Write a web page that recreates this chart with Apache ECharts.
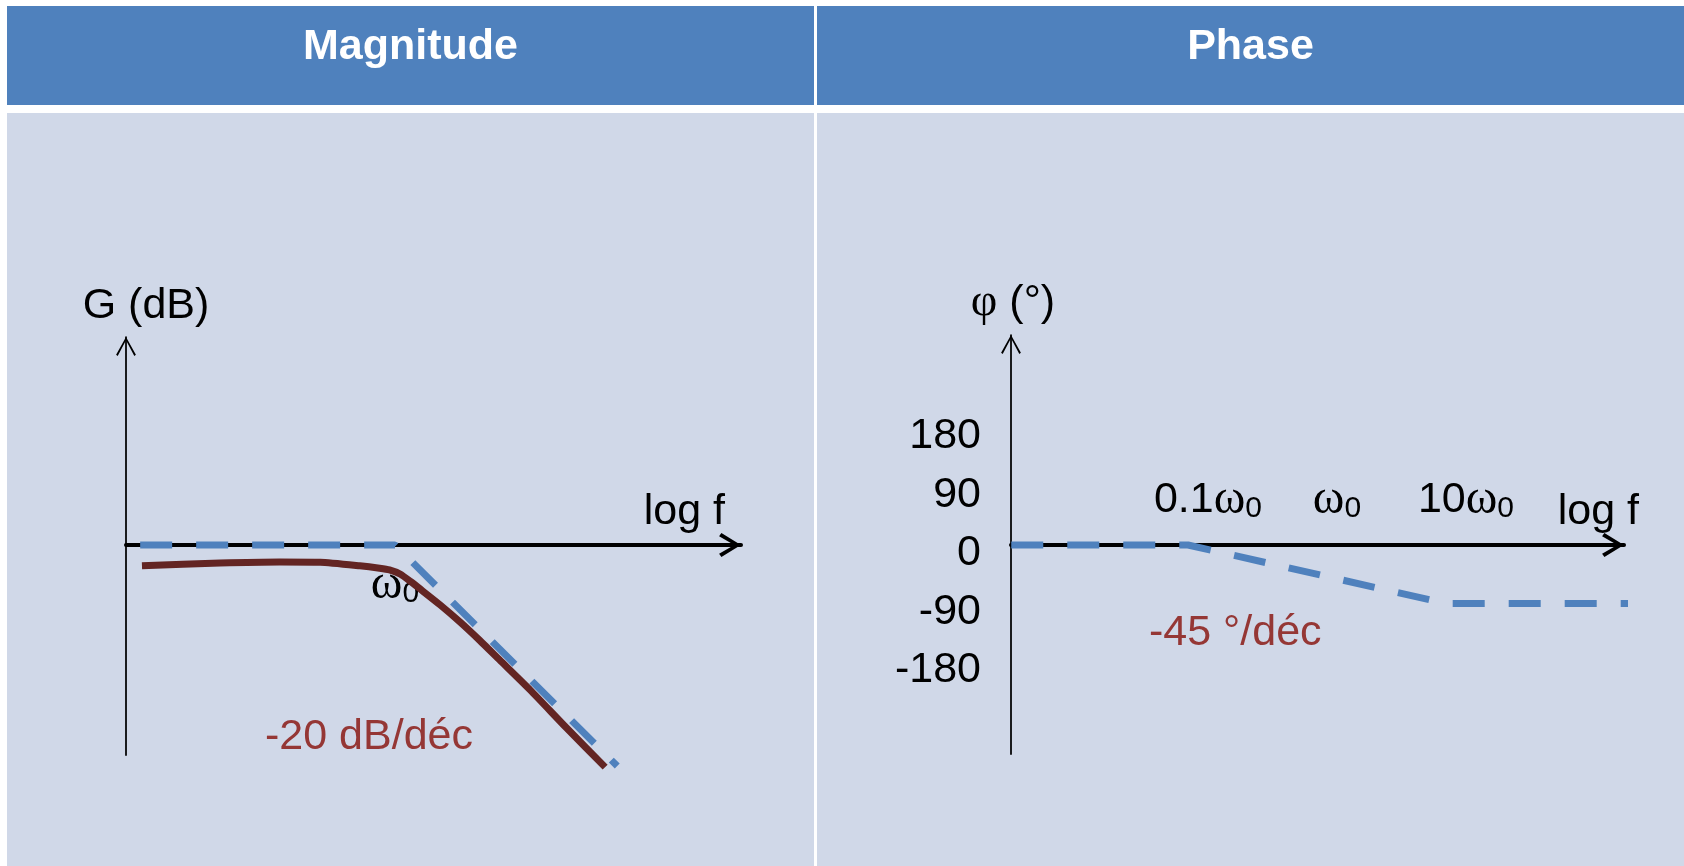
<!DOCTYPE html>
<html>
<head>
<meta charset="utf-8">
<script src="https://cdn.jsdelivr.net/npm/echarts@6/dist/echarts.min.js"></script>
<style>
html,body{margin:0;padding:0;background:#ffffff;}
#chart{width:1684px;height:866px;}
</style>
</head>
<body>
<div id="chart"></div>
<script>
// ---- Data (x = decades relative to ω0) ----
// Magnitude panel (y = dB)
const magAsymptote = [[-2.58, 0], [0, 0], [2.02, -40.2]];
const magActual = [[-2.30, -3.8], [-1.59, -3.3], [-1.05, -3.1], [-0.68, -3.15], [-0.32, -3.8],
                   [-0.14, -4.24], [-0.05, -4.55], [0.05, -5.33], [0.14, -6.64], [0.23, -8.04],
                   [0.41, -10.9], [0.59, -14.0], [0.77, -17.36], [0.95, -20.9], [1.23, -26.4],
                   [1.56, -33.3], [1.91, -40.4]];
const magFreqTicks = [0];
const magFreqLabels = ['{w|ω}{s|0}'];
// Phase panel (y = degrees)
const phaseAsymptote = [[-2.37, 0], [-1, 0], [1, -90], [2.52, -90]];
const phaseTicks = [180, 90, 0, -90, -180];
const phaseFreqTicks = [-1, 0, 1];
const phaseFreqLabels = ['{n|0.1}{w|ω}{s|0}', '{w|ω}{s|0}', '{n|10}{w|ω}{s|0}'];
// Texts
const panelTitles = ['Magnitude', 'Phase'];
const magSlopeText = '-20 dB/déc';
const phaseSlopeText = '-45 °/déc';

const SANS = "'Liberation Sans', Arial, sans-serif";
const SERIF = "'Liberation Serif', 'Times New Roman', serif";
const HEADER_BLUE = '#4F81BD';
const BODY_BG = '#D0D8E8';
const DASH_BLUE = '#4F81BD';
const BROWN = '#632523';
const RED_TEXT = '#953735';

const richOmega = {
  n: {fontSize: 43, fontFamily: SANS, color: '#000', verticalAlign: 'middle'},
  w: {fontSize: 48, fontFamily: SERIF, color: '#000', verticalAlign: 'middle'},
  s: {fontSize: 30, fontFamily: SANS, color: '#000', verticalAlign: 'bottom', lineHeight: 10}
};

const thinArrow = 'path://M10,0 L20,18 L18.4,19.2 L10,3.4 L1.6,19.2 L0,18 Z';
const thickArrow = 'path://M12,0 L24,19.5 L20.8,21.8 L12,6.6 L3.2,21.8 L0,19.5 Z';

const chart = echarts.init(document.getElementById('chart'), null, {renderer: 'canvas'});

// Panel geometry
const MAG = {left: 126, top: 337, width: 615, zeroH: 208, fullH: 418, xMin: -2.445, xMax: 3.145, yMin: -38.2, yMax: 37.8};
const PHA = {left: 1011, top: 335, width: 613, zeroH: 210, fullH: 419, xMin: -2.372, xMax: 2.380, yMin: -321.5, yMax: 323};

function freqAxis(gridIndex, P, ticks, labels, labelOpt, nameGap, namePad) {
  return {
    type: 'value', gridIndex: gridIndex, min: P.xMin, max: P.xMax, position: 'bottom',
    splitLine: {show: false},
    axisTick: {show: false},
    axisLine: {
      onZero: false,
      symbol: ['none', thickArrow],
      symbolSize: [24, 22],
      symbolOffset: [0, -11],
      lineStyle: {color: '#000', width: 4}
    },
    axisLabel: Object.assign({
      customValues: ticks,
      formatter: function (v) { return labels[ticks.indexOf(v)] || ''; },
      rich: richOmega,
      showMinLabel: true, showMaxLabel: true, hideOverlap: false
    }, labelOpt),
    name: 'log f',
    nameLocation: 'end',
    nameGap: nameGap,
    nameTextStyle: {fontSize: 43, fontFamily: SANS, color: '#000', align: 'right', verticalAlign: 'bottom', padding: namePad}
  };
}

function hiddenAxis(type, gridIndex, min, max) {
  return {type: type, gridIndex: gridIndex, min: min, max: max, show: false,
          splitLine: {show: false}, axisLine: {show: false}, axisTick: {show: false}, axisLabel: {show: false}};
}

function valueAxisY(gridIndex, P, name, nameStyle, labelOpt) {
  return {
    type: 'value', gridIndex: gridIndex, min: P.yMin, max: P.yMax, position: 'left',
    splitLine: {show: false},
    axisTick: {show: false},
    axisLine: {
      onZero: false,
      symbol: ['none', thinArrow],
      symbolSize: [20, 19],
      symbolOffset: [0, -9.5],
      lineStyle: {color: '#000', width: 1.75}
    },
    axisLabel: labelOpt,
    name: name,
    nameLocation: 'end',
    nameGap: 9,
    nameTextStyle: nameStyle
  };
}

const option = {
  backgroundColor: '#ffffff',
  animation: false,
  graphic: [
    {type: 'rect', z: -10, shape: {x: 7, y: 6, width: 807, height: 99}, style: {fill: HEADER_BLUE}},
    {type: 'rect', z: -10, shape: {x: 817, y: 6, width: 867, height: 99}, style: {fill: HEADER_BLUE}},
    {type: 'rect', z: -10, shape: {x: 7, y: 113, width: 807, height: 753}, style: {fill: BODY_BG}},
    {type: 'rect', z: -10, shape: {x: 817, y: 113, width: 867, height: 753}, style: {fill: BODY_BG}},
    {type: 'text', z: 5, x: 410.5, y: 47, style: {text: panelTitles[0], fill: '#fff', font: "bold 43px " + SANS, textAlign: 'center', textVerticalAlign: 'middle'}},
    {type: 'text', z: 5, x: 1250.5, y: 47, style: {text: panelTitles[1], fill: '#fff', font: "bold 43px " + SANS, textAlign: 'center', textVerticalAlign: 'middle'}},
    {type: 'text', z: 5, x: 265, y: 737, style: {text: magSlopeText, fill: RED_TEXT, font: "43px " + SANS, textAlign: 'left', textVerticalAlign: 'middle'}},
    {type: 'text', z: 5, x: 1149, y: 633, style: {text: phaseSlopeText, fill: RED_TEXT, font: "43px " + SANS, textAlign: 'left', textVerticalAlign: 'middle'}}
  ],
  grid: [
    // 0: magnitude band whose bottom edge is the 0 dB line (frequency axis)
    {left: MAG.left, top: MAG.top, width: MAG.width, height: MAG.zeroH},
    // 1: magnitude full-height frame (G axis + curves)
    {left: MAG.left, top: MAG.top, width: MAG.width, height: MAG.fullH},
    // 2: phase band whose bottom edge is the 0° line (frequency axis)
    {left: PHA.left, top: PHA.top, width: PHA.width, height: PHA.zeroH},
    // 3: phase full-height frame (φ axis + curve)
    {left: PHA.left, top: PHA.top, width: PHA.width, height: PHA.fullH}
  ],
  xAxis: [
    freqAxis(0, MAG, magFreqTicks, magFreqLabels, {margin: 16}, -16, [0, 0, 11, 0]),
    hiddenAxis('value', 1, MAG.xMin, MAG.xMax),
    freqAxis(2, PHA, phaseFreqTicks, phaseFreqLabels, {inside: true, margin: 21, padding: [0, 0, 0, 40]}, 15, [0, 0, 11, 0]),
    hiddenAxis('value', 3, PHA.xMin, PHA.xMax)
  ],
  yAxis: [
    hiddenAxis('value', 0, 0, MAG.yMax),
    valueAxisY(1, MAG, 'G (dB)',
      {fontSize: 43, fontFamily: SANS, color: '#000', padding: [0, 0, 0, 40]},
      {show: false}),
    hiddenAxis('value', 2, 0, PHA.yMax),
    valueAxisY(3, PHA, '{p|φ} (°)',
      {fontSize: 43, fontFamily: SANS, color: '#000', padding: [0, 0, 0, 4],
       rich: {p: {fontSize: 46, fontFamily: SERIF, color: '#000'}}},
      {show: true, customValues: phaseTicks, margin: 30,
       formatter: function (v) { return '{t|' + v + '}'; },
       rich: {t: {fontSize: 43, fontFamily: SANS, color: '#000', padding: [17, 0, 0, 0]}},
       showMinLabel: true, showMaxLabel: true, hideOverlap: false})
  ],
  series: [
    {
      type: 'line', xAxisIndex: 1, yAxisIndex: 1, data: magActual,
      showSymbol: false, symbol: 'none', clip: false, smooth: 0.2, z: 3,
      lineStyle: {color: BROWN, width: 7, cap: 'butt', join: 'round'}
    },
    {
      type: 'line', xAxisIndex: 1, yAxisIndex: 1, data: magAsymptote,
      showSymbol: false, symbol: 'none', clip: false, z: 4,
      lineStyle: {color: DASH_BLUE, width: 7, type: [32, 24], dashOffset: 27, cap: 'butt'}
    },
    {
      type: 'line', xAxisIndex: 3, yAxisIndex: 3, data: phaseAsymptote,
      showSymbol: false, symbol: 'none', clip: false, z: 4,
      lineStyle: {color: DASH_BLUE, width: 7, type: [32, 24], dashOffset: 0, cap: 'butt'}
    }
  ]
};
chart.setOption(option);
</script>
</body>
</html>
